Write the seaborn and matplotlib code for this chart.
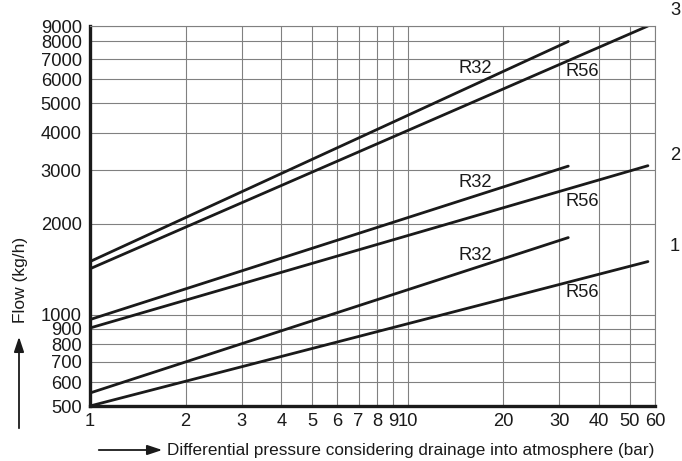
import pandas as pd
import numpy as np
import matplotlib
matplotlib.use("Agg")
import matplotlib.pyplot as plt
import seaborn as sns

# data (log-log, two end points per straight line)
curves = ["3", "3", "2", "2", "1", "1"]
refrigerants = ["R32", "R56", "R32", "R56", "R32", "R56"]
pressure_start = [1, 1, 1, 1, 1, 1]
pressure_end = [32, 57, 32, 57, 32, 57]
flow_start = [1500, 1420, 965, 905, 552, 500]
flow_end = [8000, 9000, 3100, 3110, 1800, 1500]

x_ticks = [1, 2, 3, 4, 5, 6, 7, 8, 9, 10, 20, 30, 40, 50, 60]
x_labels = ["1", "2", "3", "4", "5", "6", "7", "8", "9", "10", "20", "30", "40", "50", "60"]
y_ticks = [500, 600, 700, 800, 900, 1000, 2000, 3000, 4000, 5000, 6000, 7000, 8000, 9000]

# label positions (pressure, flow)
label_r32_pos = [(16.3, 6490), (16.3, 2730), (16.3, 1566)]
label_r56_pos = [(35.4, 6390), (35.4, 2360), (35.4, 1190)]
curve_label_flow = [10160, 3350, 1676]
curve_names = ["3", "2", "1"]

rows = []
for i in range(len(curves)):
    name = curves[i] + refrigerants[i]
    rows.append({"line": name, "pressure": pressure_start[i], "flow": flow_start[i]})
    rows.append({"line": name, "pressure": pressure_end[i], "flow": flow_end[i]})
df = pd.DataFrame(rows)

sns.set_style("white")
plt.rcParams["font.family"] = ["Liberation Sans", "DejaVu Sans"]

fig = plt.figure(figsize=(6.82, 4.61), dpi=100)
ax = fig.add_axes([90 / 682, 55 / 461, 565 / 682, 380 / 461])

sns.lineplot(data=df, x="pressure", y="flow", units="line", estimator=None,
             color="#1a1a1a", linewidth=2.0, ax=ax)

ax.set_xscale("log")
ax.set_yscale("log")
ax.set_xlim(1, 60)
ax.set_ylim(500, 9000)

ax.set_xticks(x_ticks)
ax.set_xticklabels(x_labels)
ax.set_yticks(y_ticks)
ax.set_yticklabels([str(v) for v in y_ticks])
ax.xaxis.set_minor_locator(matplotlib.ticker.NullLocator())
ax.yaxis.set_minor_locator(matplotlib.ticker.NullLocator())

ax.grid(True, color="#808080", linewidth=0.8)
ax.tick_params(axis="both", direction="in", length=3, width=2, color="#1a1a1a",
               labelsize=13.2, labelcolor="#1a1a1a")
ax.tick_params(axis="x", pad=5)
ax.tick_params(axis="y", pad=6)

for side in ["left", "bottom"]:
    ax.spines[side].set_color("#1a1a1a")
    ax.spines[side].set_linewidth(2.4)
for side in ["top", "right"]:
    ax.spines[side].set_color("#808080")
    ax.spines[side].set_linewidth(0.8)

for (x, y) in label_r32_pos:
    ax.text(x, y, "R32", ha="center", va="center", fontsize=13.2, color="#1a1a1a")
for (x, y) in label_r56_pos:
    ax.text(x, y, "R56", ha="center", va="center", fontsize=13.2, color="#1a1a1a")
for name, y in zip(curve_names, curve_label_flow):
    ax.text(69.4, y, name, ha="center", va="center", fontsize=13.2,
            color="#1a1a1a", clip_on=False)

ax.set_xlabel("")
ax.set_ylabel("")

# y axis title with arrow
fig.text(21 / 682, 1 - 280 / 461, "Flow (kg/h)", rotation=90, ha="center", va="center",
         fontsize=12.5, color="#1a1a1a")
fig.add_artist(matplotlib.patches.FancyArrowPatch(
    (19 / 682, 1 - 431 / 461), (19 / 682, 1 - 334 / 461), transform=fig.transFigure,
    arrowstyle="-|>,head_length=9,head_width=3", color="#1a1a1a", linewidth=1.3))

# x axis title with arrow
fig.text(167 / 682, 1 - 450 / 461, "Differential pressure considering drainage into atmosphere (bar)",
         ha="left", va="center", fontsize=12.3, color="#1a1a1a")
fig.add_artist(matplotlib.patches.FancyArrowPatch(
    (96 / 682, 1 - 450 / 461), (165 / 682, 1 - 450 / 461), transform=fig.transFigure,
    arrowstyle="-|>,head_length=9,head_width=3", color="#1a1a1a", linewidth=1.3))

fig.savefig("out.png", dpi=100)
